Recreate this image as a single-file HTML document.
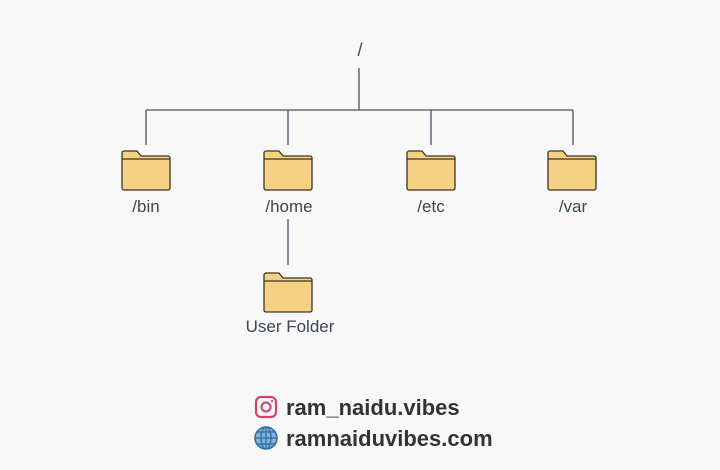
<html><head><style>
body{margin:0;width:720px;height:470px;background:#f8f8f9;font-family:"Liberation Sans",sans-serif;position:relative;overflow:hidden}
.t{position:absolute;color:#3d4654;font-size:17px;transform:translateX(-50%);white-space:nowrap}
.b{position:absolute;color:#333;font-size:22px;font-weight:bold;left:286px}
</style></head><body>
<svg width="720" height="470" style="position:absolute;left:0;top:0">
<g stroke="#4a5260" stroke-width="1.3" fill="none">
<path d="M359 68V110M146 110H573M146 110V145M288 110V145M431 110V145M573 110V145M288 219V265"/>
</g>
<defs><g id="f">
<path d="M-22 -36h13l4 5h27a2 2 0 0 1 2 2v30a2 2 0 0 1-2 2h-44a2 2 0 0 1-2-2v-35a2 2 0 0 1 2-2z" fill="#f5d283" stroke="#3a3424" stroke-width="1.3"/>
<path d="M-24 -28h48" stroke="#3a3424" stroke-width="1.2"/>
</g></defs>
<use href="#f" x="146" y="187"/><use href="#f" x="288" y="187"/><use href="#f" x="431" y="187"/><use href="#f" x="572" y="187"/><use href="#f" x="288" y="309"/>
<rect x="256" y="397" width="20" height="20" rx="5" fill="none" stroke="#d2456a" stroke-width="2.2"/>
<circle cx="266" cy="407" r="4.5" fill="none" stroke="#c64f7c" stroke-width="2.2"/>
<circle cx="272" cy="401" r="1.2" fill="#c64f7c"/>
<circle cx="266" cy="438" r="11" fill="#7fb2dd" stroke="#2e6a9c" stroke-width="1.5"/>
<g fill="none" stroke="#2e6a9c" stroke-width="1.2"><ellipse cx="266" cy="438" rx="5" ry="11"/><path d="M255 438h22M257 432h18M257 444h18M266 427v22"/></g>
</svg>
<div class="t" style="left:360px;top:40px;font-size:18px">/</div>
<div class="t" style="left:146px;top:197px">/bin</div>
<div class="t" style="left:289px;top:197px">/home</div>
<div class="t" style="left:431px;top:197px">/etc</div>
<div class="t" style="left:573px;top:197px">/var</div>
<div class="t" style="left:290px;top:317px">User Folder</div>
<div class="b" style="top:395px">ram_naidu.vibes</div>
<div class="b" style="top:426px">ramnaiduvibes.com</div>
</body></html>
